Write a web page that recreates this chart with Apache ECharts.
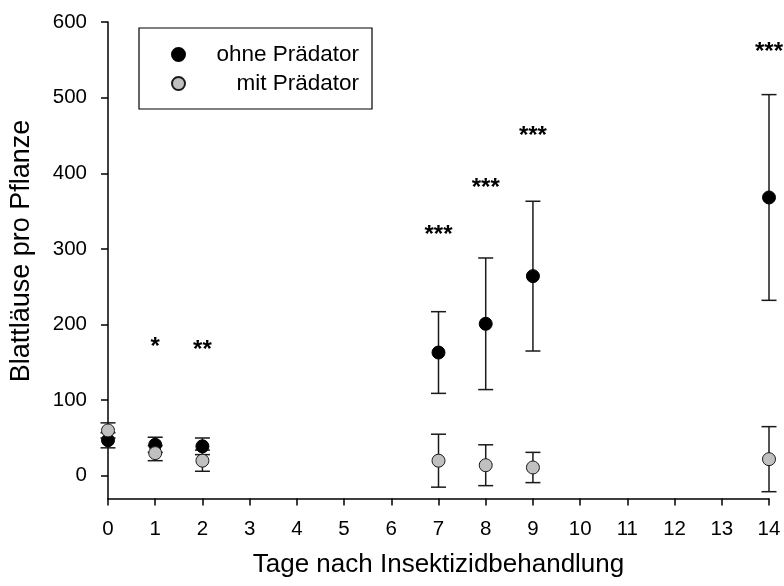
<!DOCTYPE html>
<html>
<head>
<meta charset="utf-8">
<script src="https://cdn.jsdelivr.net/npm/echarts@6/dist/echarts.min.js"></script>
<style>
  html, body { margin: 0; padding: 0; background: #fff; }
  #chart { width: 784px; height: 586px; }
</style>
</head>
<body>
<div id="chart"></div>
<script>
// Days after insecticide treatment
const days = [0, 1, 2, 7, 8, 9, 14];
// Aphids per plant without predator: mean and error
const ohneMean = [47, 41, 39, 163, 201, 264, 368];
const ohneErr = [10, 10, 11, 54, 87, 99, 136];
// Aphids per plant with predator: mean and error
const mitMean = [60, 30, 20, 20, 14, 11, 22];
const mitErr = [10, 10, 14, 35, 27, 20, 43];
// Significance markers
const starDays = [1, 2, 7, 8, 9, 14];
const starLevel = [175, 171, 323, 385, 454, 565];
const starText = ['*', '**', '***', '***', '***', '***'];
// Axis ticks
const yTicks = [0, 100, 200, 300, 400, 500, 600];
const xTicks = [0, 1, 2, 3, 4, 5, 6, 7, 8, 9, 10, 11, 12, 13, 14];

const FONT = '"Liberation Sans", Arial, sans-serif';

const meanPoints = (mean) => days.map((d, i) => [d, mean[i]]);
const errRanges = (mean, err) => days.map((d, i) => [d, mean[i] - err[i], mean[i] + err[i]]);

function renderErrorBar(params, api) {
  const lo = api.coord([api.value(0), api.value(1)]);
  const hi = api.coord([api.value(0), api.value(2)]);
  const half = 7.5;
  const style = { stroke: '#1a1a1a', lineWidth: 1.5, fill: null };
  return {
    type: 'group',
    children: [
      { type: 'line', shape: { x1: lo[0], y1: lo[1], x2: hi[0], y2: hi[1] }, style },
      { type: 'line', shape: { x1: lo[0] - half, y1: lo[1], x2: lo[0] + half, y2: lo[1] }, style },
      { type: 'line', shape: { x1: hi[0] - half, y1: hi[1], x2: hi[0] + half, y2: hi[1] }, style }
    ]
  };
}

function renderStars(params, api) {
  const p = api.coord([api.value(0), api.value(1)]);
  const idx = params.dataIndex;
  return {
    type: 'text',
    x: p[0],
    y: p[1] + 4,
    style: {
      text: starText[idx],
      fontFamily: FONT,
      fontSize: 24,
      fontWeight: 'bold',
      fill: '#000',
      align: 'center',
      verticalAlign: 'middle'
    }
  };
}

const chart = echarts.init(document.getElementById('chart'), null, { renderer: 'canvas' });

chart.setOption({
  animation: false,
  backgroundColor: '#fff',
  textStyle: { fontFamily: FONT },
  grid: { left: 108, right: 15, top: 22, bottom: 87.5, containLabel: false },
  legend: {
    orient: 'vertical',
    left: 139,
    top: 28,
    padding: [15, 13, 14, 32],
    itemGap: 6,
    itemWidth: 13,
    itemHeight: 13,
    borderColor: '#000',
    borderWidth: 1.2,
    data: ['ohne Prädator', 'mit Prädator'],
    formatter: '{t|{name}}',
    textStyle: {
      rich: {
        t: { width: 169, align: 'right', fontSize: 22.5, lineHeight: 22, color: '#000', fontFamily: FONT }
      }
    }
  },
  xAxis: {
    type: 'value',
    min: 0,
    max: 14,
    interval: 1,
    name: 'Tage nach Insektizidbehandlung',
    nameLocation: 'middle',
    nameGap: 53,
    nameTextStyle: { fontSize: 26, color: '#000', fontFamily: FONT },
    axisLine: { onZero: false, lineStyle: { color: '#000', width: 1.5 } },
    axisTick: { show: true, length: 7, lineStyle: { color: '#000', width: 1.5 } },
    axisLabel: { show: true, margin: 20, fontSize: 20.5, color: '#000', fontFamily: FONT, customValues: xTicks },
    splitLine: { show: false }
  },
  yAxis: {
    type: 'value',
    min: -30,
    max: 600,
    axisLine: { show: true, onZero: false, lineStyle: { color: '#000', width: 1.5 } },
    axisTick: { show: true, length: 7, customValues: yTicks, lineStyle: { color: '#000', width: 1.5 } },
    axisLabel: { show: true, margin: 21, fontSize: 20.5, color: '#000', fontFamily: FONT, customValues: yTicks },
    splitLine: { show: false }
  },
  graphic: [{
    type: 'text',
    x: 22,
    y: 251,
    rotation: Math.PI / 2,
    style: {
      text: 'Blattläuse pro Pflanze',
      fontFamily: FONT,
      fontSize: 27,
      fill: '#000',
      align: 'center',
      verticalAlign: 'middle'
    }
  }],
  series: [
    {
      type: 'custom',
      name: 'err-ohne',
      renderItem: renderErrorBar,
      encode: { x: 0, y: [1, 2] },
      data: errRanges(ohneMean, ohneErr),
      z: 1,
      silent: true
    },
    {
      type: 'custom',
      name: 'err-mit',
      renderItem: renderErrorBar,
      encode: { x: 0, y: [1, 2] },
      data: errRanges(mitMean, mitErr),
      z: 1,
      silent: true
    },
    {
      type: 'scatter',
      name: 'ohne Prädator',
      symbol: 'circle',
      symbolSize: 13,
      itemStyle: { color: '#000', borderColor: '#000', borderWidth: 1, opacity: 1 },
      data: meanPoints(ohneMean),
      z: 3
    },
    {
      type: 'scatter',
      name: 'mit Prädator',
      symbol: 'circle',
      symbolSize: 13,
      itemStyle: { color: '#c0c0c0', borderColor: '#1a1a1a', borderWidth: 1, opacity: 1 },
      data: meanPoints(mitMean),
      z: 4
    },
    {
      type: 'custom',
      name: 'stars',
      renderItem: renderStars,
      encode: { x: 0, y: 1 },
      data: starDays.map((d, i) => [d, starLevel[i]]),
      z: 5,
      silent: true
    }
  ]
});
</script>
</body>
</html>
